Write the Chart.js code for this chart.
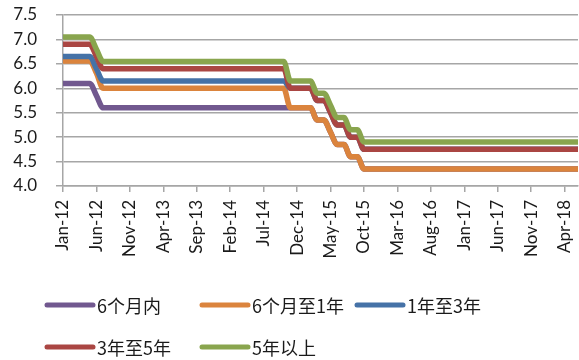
<!DOCTYPE html>
<html>
<head>
<meta charset="utf-8">
<script src="https://cdn.jsdelivr.net/npm/chart.js@4/dist/chart.umd.min.js"></script>
<style>
  html, body { margin: 0; padding: 0; background: #fff; }
  canvas { display: block; }
</style>
</head>
<body>
<canvas id="chart" width="579" height="360"></canvas>
<script>
// month-end benchmark lending rates, %
const months = [
  'Jan-12','Feb-12','Mar-12','Apr-12','May-12','Jun-12','Jul-12','Aug-12','Sep-12','Oct-12','Nov-12','Dec-12',
  'Jan-13','Feb-13','Mar-13','Apr-13','May-13','Jun-13','Jul-13','Aug-13','Sep-13','Oct-13','Nov-13','Dec-13',
  'Jan-14','Feb-14','Mar-14','Apr-14','May-14','Jun-14','Jul-14','Aug-14','Sep-14','Oct-14','Nov-14','Dec-14',
  'Jan-15','Feb-15','Mar-15','Apr-15','May-15','Jun-15','Jul-15','Aug-15','Sep-15','Oct-15','Nov-15','Dec-15',
  'Jan-16','Feb-16','Mar-16','Apr-16','May-16','Jun-16','Jul-16','Aug-16','Sep-16','Oct-16','Nov-16','Dec-16',
  'Jan-17','Feb-17','Mar-17','Apr-17','May-17','Jun-17','Jul-17','Aug-17','Sep-17','Oct-17','Nov-17','Dec-17',
  'Jan-18','Feb-18','Mar-18','Apr-18','May-18','Jun-18'
];

const seriesNames = ['6个月内', '6个月至1年', '1年至3年', '3年至5年', '5年以上'];

const rate6m = [
  6.10,6.10,6.10,6.10,6.10,5.85,5.60,5.60,5.60,5.60,5.60,5.60,
  5.60,5.60,5.60,5.60,5.60,5.60,5.60,5.60,5.60,5.60,5.60,5.60,
  5.60,5.60,5.60,5.60,5.60,5.60,5.60,5.60,5.60,5.60,5.60,5.60,
  5.60,5.60,5.35,5.35,5.10,4.85,4.85,4.60,4.60,4.35,4.35,4.35,
  4.35,4.35,4.35,4.35,4.35,4.35,4.35,4.35,4.35,4.35,4.35,4.35,
  4.35,4.35,4.35,4.35,4.35,4.35,4.35,4.35,4.35,4.35,4.35,4.35,
  4.35,4.35,4.35,4.35,4.35,4.35
];
const rate6m1y = [
  6.56,6.56,6.56,6.56,6.56,6.31,6.00,6.00,6.00,6.00,6.00,6.00,
  6.00,6.00,6.00,6.00,6.00,6.00,6.00,6.00,6.00,6.00,6.00,6.00,
  6.00,6.00,6.00,6.00,6.00,6.00,6.00,6.00,6.00,6.00,5.60,5.60,
  5.60,5.60,5.35,5.35,5.10,4.85,4.85,4.60,4.60,4.35,4.35,4.35,
  4.35,4.35,4.35,4.35,4.35,4.35,4.35,4.35,4.35,4.35,4.35,4.35,
  4.35,4.35,4.35,4.35,4.35,4.35,4.35,4.35,4.35,4.35,4.35,4.35,
  4.35,4.35,4.35,4.35,4.35,4.35
];
const rate1y3y = [
  6.65,6.65,6.65,6.65,6.65,6.40,6.15,6.15,6.15,6.15,6.15,6.15,
  6.15,6.15,6.15,6.15,6.15,6.15,6.15,6.15,6.15,6.15,6.15,6.15,
  6.15,6.15,6.15,6.15,6.15,6.15,6.15,6.15,6.15,6.15,6.00,6.00,
  6.00,6.00,5.75,5.75,5.50,5.25,5.25,5.00,5.00,4.75,4.75,4.75,
  4.75,4.75,4.75,4.75,4.75,4.75,4.75,4.75,4.75,4.75,4.75,4.75,
  4.75,4.75,4.75,4.75,4.75,4.75,4.75,4.75,4.75,4.75,4.75,4.75,
  4.75,4.75,4.75,4.75,4.75,4.75
];
const rate3y5y = [
  6.90,6.90,6.90,6.90,6.90,6.65,6.40,6.40,6.40,6.40,6.40,6.40,
  6.40,6.40,6.40,6.40,6.40,6.40,6.40,6.40,6.40,6.40,6.40,6.40,
  6.40,6.40,6.40,6.40,6.40,6.40,6.40,6.40,6.40,6.40,6.00,6.00,
  6.00,6.00,5.75,5.75,5.50,5.25,5.25,5.00,5.00,4.75,4.75,4.75,
  4.75,4.75,4.75,4.75,4.75,4.75,4.75,4.75,4.75,4.75,4.75,4.75,
  4.75,4.75,4.75,4.75,4.75,4.75,4.75,4.75,4.75,4.75,4.75,4.75,
  4.75,4.75,4.75,4.75,4.75,4.75
];
const rate5yPlus = [
  7.05,7.05,7.05,7.05,7.05,6.80,6.55,6.55,6.55,6.55,6.55,6.55,
  6.55,6.55,6.55,6.55,6.55,6.55,6.55,6.55,6.55,6.55,6.55,6.55,
  6.55,6.55,6.55,6.55,6.55,6.55,6.55,6.55,6.55,6.55,6.15,6.15,
  6.15,6.15,5.90,5.90,5.65,5.40,5.40,5.15,5.15,4.90,4.90,4.90,
  4.90,4.90,4.90,4.90,4.90,4.90,4.90,4.90,4.90,4.90,4.90,4.90,
  4.90,4.90,4.90,4.90,4.90,4.90,4.90,4.90,4.90,4.90,4.90,4.90,
  4.90,4.90,4.90,4.90,4.90,4.90
];

const colors = ['#71588F', '#DB843D', '#4572A7', '#AA4643', '#89A54E'];
const allRates = [rate6m, rate6m1y, rate1y3y, rate3y5y, rate5yPlus];

const yTicks = [4.0, 4.5, 5.0, 5.5, 6.0, 6.5, 7.0, 7.5];
const labelEvery = 5;

const gridColor = '#a6a6a6';
const textColor = '#1a1a1a';

// later series sit on top, so give them a lower draw order
const datasets = allRates.map((data, i) => ({
  label: seriesNames[i],
  data: data,
  borderColor: colors[i],
  backgroundColor: colors[i],
  borderWidth: 5.5,
  borderCapStyle: 'round',
  borderJoinStyle: 'round',
  cubicInterpolationMode: 'monotone',
  pointRadius: 0,
  pointHoverRadius: 0,
  clip: 0,
  order: allRates.length - 1 - i
}));

// legend laid out as a grid of three columns
const gridLegend = {
  id: 'gridLegend',
  afterDraw(chart) {
    const ctx = chart.ctx;
    const colX = [45, 200, 355];
    const rowY = [305, 347];
    ctx.save();
    ctx.font = '18px "Noto Sans CJK SC"';
    ctx.textBaseline = 'middle';
    ctx.textAlign = 'left';
    chart.data.datasets.forEach((ds, i) => {
      const x = colX[i % 3];
      const y = rowY[Math.floor(i / 3)];
      ctx.strokeStyle = ds.borderColor;
      ctx.lineWidth = 5;
      ctx.lineCap = 'round';
      ctx.beginPath();
      ctx.moveTo(x + 2, y);
      ctx.lineTo(x + 48, y);
      ctx.stroke();
      ctx.fillStyle = textColor;
      ctx.fillText(ds.label, x + 52, y + 1);
    });
    ctx.restore();
  }
};

new Chart(document.getElementById('chart'), {
  type: 'line',
  data: { labels: months, datasets: datasets },
  options: {
    responsive: false,
    animation: false,
    devicePixelRatio: 1,
    layout: { padding: { left: 0, right: 1, top: 15, bottom: 73 } },
    plugins: {
      legend: { display: false },
      tooltip: { enabled: false }
    },
    scales: {
      x: {
        offset: false,
        grid: {
          drawOnChartArea: false,
          drawTicks: true,
          tickLength: 6,
          lineWidth: 1.5,
          color: (c) => (c.index % labelEvery === 0 ? gridColor : 'rgba(0,0,0,0)')
        },
        border: { color: gridColor, width: 1.5 },
        ticks: {
          autoSkip: false,
          maxRotation: 90,
          minRotation: 90,
          padding: 8,
          color: textColor,
          font: { family: 'Lato, sans-serif', size: 17 },
          callback: function (v, i) {
            return i % labelEvery === 0 ? this.getLabelForValue(v) : '';
          }
        },
        afterFit(scale) {
          scale.height = 101;
          scale.paddingLeft = 0;
          scale.paddingRight = 0;
        }
      },
      y: {
        min: 4,
        max: 7.5,
        afterBuildTicks(scale) {
          scale.ticks = yTicks.map(v => ({ value: v }));
        },
        grid: {
          color: gridColor,
          lineWidth: 1.5,
          drawTicks: true,
          tickLength: 7
        },
        border: { color: gridColor, width: 1.5 },
        ticks: {
          padding: 19,
          color: textColor,
          font: { family: 'Lato, sans-serif', size: 17 },
          callback: (v) => Number(v).toFixed(1)
        },
        afterFit(scale) {
          scale.width = 63;
          scale.paddingTop = 0;
          scale.paddingBottom = 0;
        }
      }
    }
  },
  plugins: [gridLegend]
});
</script>
</body>
</html>
